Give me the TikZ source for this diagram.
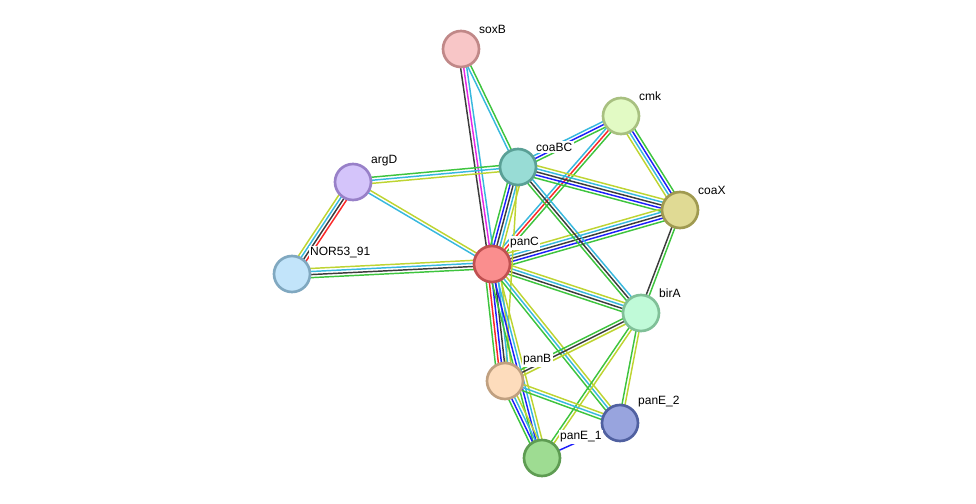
\documentclass[tikz,border=0pt]{standalone}
\usepackage{fontspec}
\setmainfont{Liberation Sans}
\usetikzlibrary{calc,backgrounds}

\definecolor{lgreen}{RGB}{62,196,62}
\definecolor{lred}{RGB}{250,40,40}
\definecolor{lblue}{RGB}{30,30,250}
\definecolor{lblack}{RGB}{60,60,60}
\definecolor{lmagenta}{RGB}{228,40,228}
\definecolor{lcyan}{RGB}{56,184,222}
\definecolor{lyellow}{RGB}{190,212,50}

% n lines, from, to, colours
\newcommand{\strlink}[4]{%
  \foreach \c [count=\i] in {#4} {
    \pgfmathsetmacro\off{(\i-(#1+1)/2)*2.3}
    \draw[link,\c] ($(#2)!\off pt!90:(#3)$) -- ($(#3)!\off pt!-90:(#2)$);
  }}

\begin{document}
\begin{tikzpicture}[x=0.75pt,y=-0.75pt,
  prot/.style={circle,line width=2pt,minimum size=27pt,inner sep=0pt},
  lbl/.style={font=\fontsize{9}{10}\selectfont,inner sep=1pt,fill=white,label distance=1pt,xshift=1.5pt,yshift=-0.3pt},
  link/.style={line width=1.1pt}]
\useasboundingbox (0,0) rectangle (976,504);

\node[prot,fill={rgb,255:red,248;green,198;blue,199},draw={rgb,255:red,192;green,136;blue,136},label={[lbl]45:soxB}] (soxB) at (461,49) {};
\node[prot,fill={rgb,255:red,152;green,220;blue,213},draw={rgb,255:red,90;green,160;blue,150},label={[lbl]45:coaBC}] (coaBC) at (518,167) {};
\node[prot,fill={rgb,255:red,226;green,250;blue,196},draw={rgb,255:red,168;green,192;blue,128},label={[lbl]45:cmk}] (cmk) at (621,116) {};
\node[prot,fill={rgb,255:red,224;green,218;blue,148},draw={rgb,255:red,160;green,154;blue,80},label={[lbl]45:coaX}] (coaX) at (680,210) {};
\node[prot,fill={rgb,255:red,212;green,196;blue,250},draw={rgb,255:red,152;green,128;blue,200},label={[lbl]45:argD}] (argD) at (353,182) {};
\node[prot,fill={rgb,255:red,194;green,228;blue,250},draw={rgb,255:red,128;green,168;blue,192},label={[lbl]45:NOR53\_91}] (nor) at (292,274) {};
\node[prot,fill={rgb,255:red,250;green,142;blue,142},draw={rgb,255:red,192;green,80;blue,80},label={[lbl]45:panC}] (panC) at (492,264) {};
\node[prot,fill={rgb,255:red,192;green,250;blue,216},draw={rgb,255:red,128;green,192;blue,152},label={[lbl]45:birA}] (birA) at (641,313) {};
\node[prot,fill={rgb,255:red,253;green,220;blue,188},draw={rgb,255:red,192;green,160;blue,128},label={[lbl]45:panB}] (panB) at (505,381) {};
\node[prot,fill={rgb,255:red,152;green,164;blue,222},draw={rgb,255:red,80;green,96;blue,160},label={[lbl]45:panE\_2}] (pane2) at (620,423) {};
\node[prot,fill={rgb,255:red,158;green,220;blue,146},draw={rgb,255:red,94;green,156;blue,82},label={[lbl]45:panE\_1}] (pane1) at (542,458) {};

\begin{scope}[on background layer]
\strlink{3}{soxB}{panC}{lblack,lmagenta,lcyan}
\strlink{2}{soxB}{coaBC}{lcyan,lgreen}
\strlink{3}{argD}{coaBC}{lyellow,lcyan,lgreen}
\strlink{2}{argD}{panC}{lcyan,lyellow}
\strlink{4}{argD}{nor}{lyellow,lcyan,lblack,lred}
\strlink{4}{nor}{panC}{lgreen,lblack,lcyan,lyellow}
\strlink{3}{coaBC}{cmk}{lgreen,lblue,lcyan}
\strlink{3}{panC}{cmk}{lgreen,lred,lcyan}
\strlink{4}{cmk}{coaX}{lyellow,lcyan,lblue,lgreen}
\strlink{5}{coaBC}{coaX}{lgreen,lblue,lblack,lcyan,lyellow}
\strlink{5}{panC}{coaX}{lgreen,lblue,lblack,lcyan,lyellow}
\strlink{2}{coaX}{birA}{lblack,lgreen}
\strlink{5}{coaBC}{panC}{lgreen,lblue,lblack,lcyan,lyellow}
\strlink{3}{coaBC}{birA}{lgreen,lblack,lcyan}
\strlink{4}{panC}{birA}{lgreen,lblack,lcyan,lyellow}
\strlink{1}{coaBC}{panB}{lyellow}
\strlink{6}{panC}{panB}{lgreen,lred,lblue,lblack,lcyan,lyellow}
\strlink{4}{panC}{pane1}{lgreen,lblue,lcyan,lyellow}
\strlink{3}{panC}{pane2}{lgreen,lcyan,lyellow}
\strlink{3}{birA}{panB}{lgreen,lblack,lyellow}
\strlink{2}{birA}{pane1}{lgreen,lyellow}
\strlink{2}{birA}{pane2}{lgreen,lyellow}
\strlink{3}{panB}{pane2}{lgreen,lcyan,lyellow}
\strlink{4}{panB}{pane1}{lgreen,lblue,lcyan,lyellow}
\strlink{1}{pane1}{pane2}{lblue}
\end{scope}
\end{tikzpicture}
\end{document}
